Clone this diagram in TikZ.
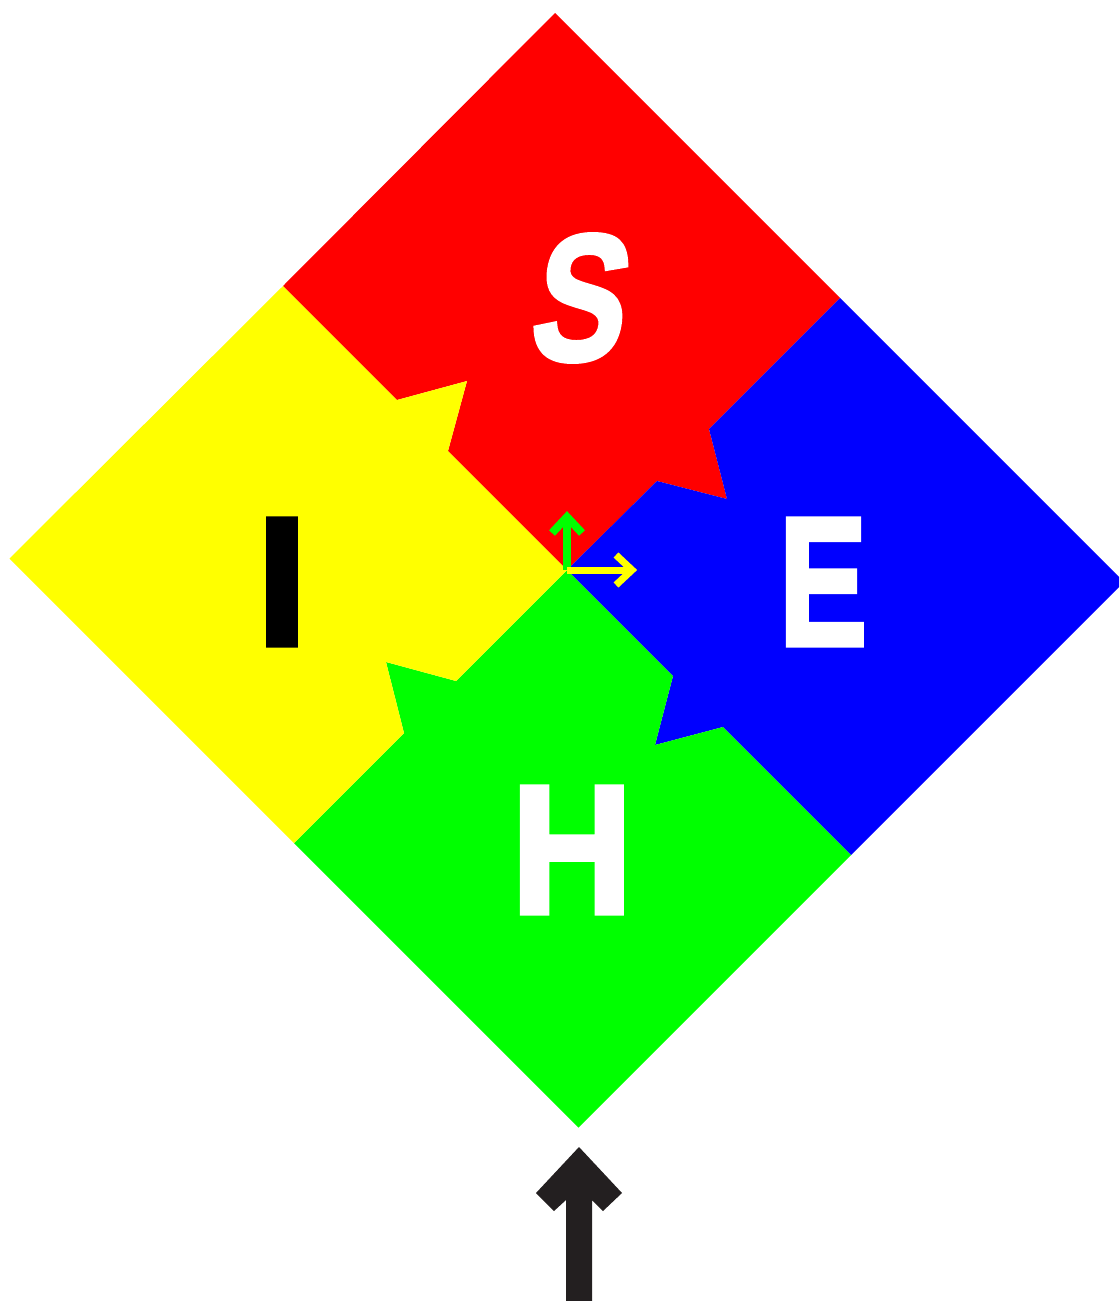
\documentclass[tikz,border=0pt]{standalone}
\usepackage{fontspec}
\newfontfamily\heavyfont[FakeBold=3]{Liberation Sans Bold}
\newfontfamily\heavyslant[FakeBold=2.5,FakeSlant=0.2]{Liberation Sans Bold}
\definecolor{cred}{HTML}{FF0000}
\definecolor{cblue}{HTML}{0000FF}
\definecolor{cgreen}{HTML}{00FF00}
\definecolor{cyellow}{HTML}{FFFF00}
\definecolor{cdark}{HTML}{231F20}
\begin{document}
\begin{tikzpicture}[x=1pt,y=-1pt,
  letter/.style={inner sep=0pt,outer sep=0pt,font=\heavyfont\fontsize{183}{183}\selectfont},
  tiparrow/.style={line cap=butt,line join=miter,miter limit=10}]
\useasboundingbox (0,0) rectangle (1119,1301);
\clip (0,0) rectangle (1119,1301);
% key points
\coordinate (C) at (567,570);
\coordinate (T) at (555,13);
\coordinate (R) at (1124,582);
\coordinate (B) at (578.5,1127.5);
\coordinate (L) at (9.5,558.5);
% red
\fill[cred] (T) -- (840,298) -- (709,429) -- (727,499) -- (657,481) -- (C) -- (448,451) -- (467,381) -- (397,400) -- (283,286) -- cycle;
% blue
\fill[cblue] (840,298) -- (R) -- (851,855) -- (723,727) -- (655,745) -- (673,676) -- (C) -- (657,481) -- (727,499) -- (709,429) -- cycle;
% green
\fill[cgreen] (C) -- (673,676) -- (655,745) -- (723,727) -- (851,855) -- (B) -- (294,843) -- (404,733) -- (386,662) -- (456,681) -- cycle;
% yellow
\fill[cyellow] (L) -- (283,286) -- (397,400) -- (467,381) -- (448,451) -- (C) -- (456,681) -- (386,662) -- (404,733) -- (294,843) -- cycle;
% letters
\node[letter,text=white,font=\heavyslant\fontsize{180}{180}\selectfont] (S) at (573,298) {\scalebox{0.78}[1]{S}};
\node[letter,text=black] (I) at (282,582) {I};
\node[letter,text=white] (E) at (823,582) {\scalebox{0.72}[1]{E}};
\node[letter,text=white] (H) at (572,850) {\scalebox{0.92}[1]{H}};
% small arrows
\coordinate (gtip) at (567,517);
\coordinate (ytip) at (632,570);
\draw[cgreen,line width=8pt,tiparrow] (C) -- (gtip);
\draw[cgreen,line width=8pt,tiparrow] (552,533) -- (gtip) -- (582,533);
\draw[cyellow,line width=7pt,tiparrow] (C) -- (ytip);
\draw[cyellow,line width=7pt,tiparrow] (616,555) -- (ytip) -- (616,585);
% bottom arrow
\fill[cdark] (579,1147) -- (622,1193) -- (603,1211) -- (592,1200) -- (592,1305) -- (566,1305) -- (566,1200) -- (554,1211) -- (536,1193) -- cycle;
\end{tikzpicture}
\end{document}
